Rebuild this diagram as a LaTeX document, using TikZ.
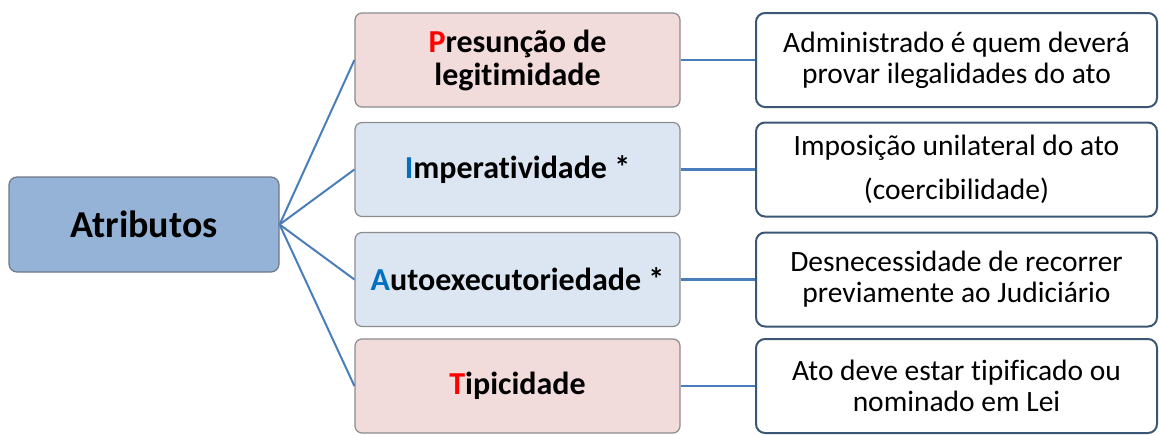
\documentclass[tikz,border=0pt]{standalone}
\usepackage{fontspec}
\setmainfont[Ligatures=NoCommon]{Carlito}
\usetikzlibrary{positioning}

\definecolor{rootfill}{RGB}{149,179,215}
\definecolor{pinkfill}{RGB}{242,220,219}
\definecolor{bluefill}{RGB}{220,230,242}
\definecolor{linkblue}{RGB}{74,126,187}
\definecolor{framedark}{RGB}{59,87,117}
\definecolor{letterred}{RGB}{255,0,0}
\definecolor{letterblue}{RGB}{0,112,192}

\tikzset{every picture/.style={line width=0.75pt}}
\tikzset{
  rootbox/.style={draw={rgb,255:red,110;green,120;blue,135}, fill=rootfill, rounded corners=8pt, line width=1.2pt,
    minimum width=270, minimum height=95, align=center, inner sep=0pt, font=\fontsize{38}{42}\selectfont\bfseries},
  attrbox/.style={draw={rgb,255:red,140;green,140;blue,140}, rounded corners=7pt, line width=1.2pt,
    minimum width=325, minimum height=94, align=center, inner sep=0pt, font=\fontsize{32}{33}\selectfont\bfseries},
  descbox/.style={draw=framedark, fill=white, rounded corners=9pt, line width=2pt,
    minimum width=401, minimum height=94, align=center, inner sep=0pt, font=\fontsize{29.5}{31}\selectfont},
  fan/.style={draw=linkblue, line width=2pt},
  link/.style={draw=linkblue, line width=2.5pt}
}

\begin{document}
\begin{tikzpicture}[x=1pt,y=1pt,yscale=-1,xscale=1]
\useasboundingbox (0,0) rectangle (1159,434);

%Shape: Rounded Rect [id:root]
\node [rootbox] (atributos) at (144,224.5) {Atributos};

%Shape: Rounded Rect [id:attributes]
\node [attrbox, fill=pinkfill] (presuncao) at (517.5,60) {\textcolor{letterred}{P}resunção de\\legitimidade};
\node [attrbox, fill=bluefill] (imperat) at (517.5,169.5) {\textcolor{letterblue}{I}mperatividade *};
\node [attrbox, fill=bluefill] (autoexec) at (517.5,279.5) {\textcolor{letterblue}{A}utoexecutoriedade *};
\node [attrbox, fill=pinkfill] (tipicid) at (517.5,386) {\textcolor{letterred}{T}ipicidade};

%Shape: Rounded Rect [id:descriptions]
\node [descbox] (descpres) at (956.5,60) {Administrado é quem deverá\\provar ilegalidades do ato};
\node [descbox] (descimp) at (956.5,169.5) {Imposição unilateral do ato\\[13pt](coercibilidade)};
\node [descbox] (descauto) at (956.5,279.5) {Desnecessidade de recorrer\\previamente ao Judiciário};
\node [descbox] (desctip) at (956.5,386) {Ato deve estar tipificado ou\\nominado em Lei};

%Straight Lines [id:fan]
\foreach \n in {presuncao,imperat,autoexec,tipicid}
  \draw [fan] (atributos.east) -- (\n.west);

%Straight Lines [id:links]
\draw [link] (presuncao.east) -- (descpres.west);
\draw [link] (imperat.east) -- (descimp.west);
\draw [link] (autoexec.east) -- (descauto.west);
\draw [link] (tipicid.east) -- (desctip.west);

\end{tikzpicture}
\end{document}
